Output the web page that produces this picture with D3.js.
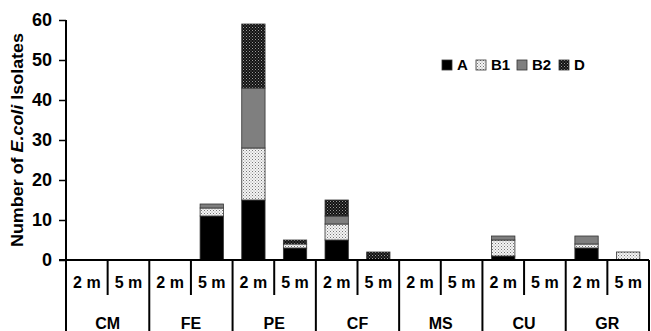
<!DOCTYPE html>
<html>
<head>
<meta charset="utf-8">
<script src="https://cdn.jsdelivr.net/npm/d3@7"></script>
<style>
  html, body { margin: 0; padding: 0; background: #fff; }
  svg { display: block; font-family: Arial, "Liberation Sans", sans-serif; }
</style>
</head>
<body>
<svg id="chart" width="651" height="331"></svg>
<script>
// Sampling sites and depths
const groups = ["CM", "FE", "PE", "CF", "MS", "CU", "GR"];
const depths = ["2 m", "5 m"];
const seriesNames = ["A", "B1", "B2", "D"];
// Isolate counts per phylogroup, ordered site by site (2 m, 5 m)
const valuesA  = [0, 0, 0, 11, 15, 3, 5, 0, 0, 0, 1, 0, 3, 0];
const valuesB1 = [0, 0, 0, 2, 13, 1, 4, 0, 0, 0, 4, 0, 1, 2];
const valuesB2 = [0, 0, 0, 1, 15, 0, 2, 0, 0, 0, 1, 0, 2, 0];
const valuesD  = [0, 0, 0, 0, 16, 1, 4, 2, 0, 0, 0, 0, 0, 0];
const yTicks = [0, 10, 20, 30, 40, 50, 60];

const rows = [];
groups.forEach((g, gi) => depths.forEach((d, di) => {
  const i = gi * 2 + di;
  rows.push({ group: g, depth: d, A: valuesA[i], B1: valuesB1[i], B2: valuesB2[i], D: valuesD[i] });
}));

const svg = d3.select("#chart");
const plotLeft = 66, plotRight = 649, plotTop = 20, plotBase = 260;

const x = d3.scaleBand().domain(groups).range([plotLeft, plotRight]);
const xs = d3.scaleBand().domain(depths).range([0, x.bandwidth()]);
const barW = xs.bandwidth() * 0.56;
const y = d3.scaleLinear().domain([0, 60]).range([plotBase, plotTop]);

// Fill patterns
const defs = svg.append("defs");
const pB1 = defs.append("pattern").attr("id", "pB1").attr("patternUnits", "userSpaceOnUse")
  .attr("width", 3).attr("height", 3);
pB1.append("rect").attr("width", 3).attr("height", 3).attr("fill", "#f4f4f4");
pB1.append("rect").attr("x", 0).attr("y", 0).attr("width", 1).attr("height", 1).attr("fill", "#777");
pB1.append("rect").attr("x", 1.5).attr("y", 1.5).attr("width", 1).attr("height", 1).attr("fill", "#999");

const pD = defs.append("pattern").attr("id", "pD").attr("patternUnits", "userSpaceOnUse")
  .attr("width", 3).attr("height", 3);
pD.append("rect").attr("width", 3).attr("height", 3).attr("fill", "#111");
pD.append("rect").attr("x", 0).attr("y", 0).attr("width", 1).attr("height", 1).attr("fill", "#999");
pD.append("rect").attr("x", 1.5).attr("y", 1.5).attr("width", 1).attr("height", 1).attr("fill", "#777");

const fills = { A: "#000", B1: "url(#pB1)", B2: "#7f7f7f", D: "url(#pD)" };

// Stacked bars
const stack = d3.stack().keys(seriesNames)(rows);
const layer = svg.append("g").selectAll("g").data(stack).join("g")
  .attr("fill", d => fills[d.key]);
layer.selectAll("rect")
  .data(d => d.filter(p => p[1] - p[0] > 0))
  .join("rect")
  .attr("x", p => x(p.data.group) + xs(p.data.depth) + (xs.bandwidth() - barW) / 2)
  .attr("y", p => y(p[1]))
  .attr("width", barW)
  .attr("height", p => y(p[0]) - y(p[1]))
  .attr("stroke", "#333")
  .attr("stroke-width", 0.8);

// Y axis
const yAxis = svg.append("g").attr("transform", `translate(${plotLeft},0)`)
  .call(d3.axisLeft(y).tickValues(yTicks).tickSize(7).tickPadding(7).tickFormat(d3.format("d")));
yAxis.select(".domain").remove();
yAxis.selectAll(".tick line").attr("stroke", "#000").attr("stroke-width", 1.5);
yAxis.selectAll(".tick text").attr("font-size", 18).attr("font-weight", "bold").attr("fill", "#000")
  .attr("font-family", "Arial, 'Liberation Sans', sans-serif");

// Axis lines and category dividers
const lines = svg.append("g").attr("stroke", "#000");
lines.append("line").attr("x1", plotLeft).attr("x2", plotLeft).attr("y1", plotTop).attr("y2", 331).attr("stroke-width", 2);
lines.append("line").attr("x1", plotLeft - 7).attr("x2", plotRight).attr("y1", plotBase).attr("y2", plotBase).attr("stroke-width", 2);
lines.selectAll(".gdiv").data(groups.slice(1).concat(["end"])).join("line")
  .attr("x1", (g, i) => i < groups.length - 1 ? x(g) : plotRight)
  .attr("x2", (g, i) => i < groups.length - 1 ? x(g) : plotRight)
  .attr("y1", plotBase).attr("y2", 331).attr("stroke-width", 2);
lines.selectAll(".sdiv").data(groups).join("line")
  .attr("x1", g => x(g) + xs("5 m")).attr("x2", g => x(g) + xs("5 m"))
  .attr("y1", plotBase).attr("y2", 295).attr("stroke-width", 2);

// Depth and site labels
const lab = svg.append("g").attr("font-weight", "bold").attr("font-size", 16).attr("text-anchor", "middle");
groups.forEach(g => depths.forEach(d => {
  lab.append("text").attr("x", x(g) + xs(d) + xs.bandwidth() / 2).attr("y", 288).text(d);
}));
lab.selectAll(".glab").data(groups).join("text")
  .attr("x", g => x(g) + x.bandwidth() / 2).attr("y", 329).text(g => g);

// Y axis title
const title = svg.append("text")
  .attr("transform", "translate(23,140) rotate(-90)")
  .attr("text-anchor", "middle").attr("font-weight", "bold").attr("font-size", 16)
  .attr("textLength", 214).attr("lengthAdjust", "spacingAndGlyphs");
title.append("tspan").text("Number of ");
title.append("tspan").attr("font-style", "italic").text("E.coli");
title.append("tspan").text(" Isolates");

// Legend
const legX = [442, 476, 517, 559];
const leg = svg.append("g");
seriesNames.forEach((s, i) => {
  leg.append("rect").attr("x", legX[i]).attr("y", 60).attr("width", 10).attr("height", 10)
    .attr("fill", fills[s]).attr("stroke", "#333").attr("stroke-width", 0.8);
  leg.append("text").attr("x", legX[i] + 15).attr("y", 70).attr("font-size", 15)
    .attr("font-weight", "bold").text(s);
});
</script>
</body>
</html>
